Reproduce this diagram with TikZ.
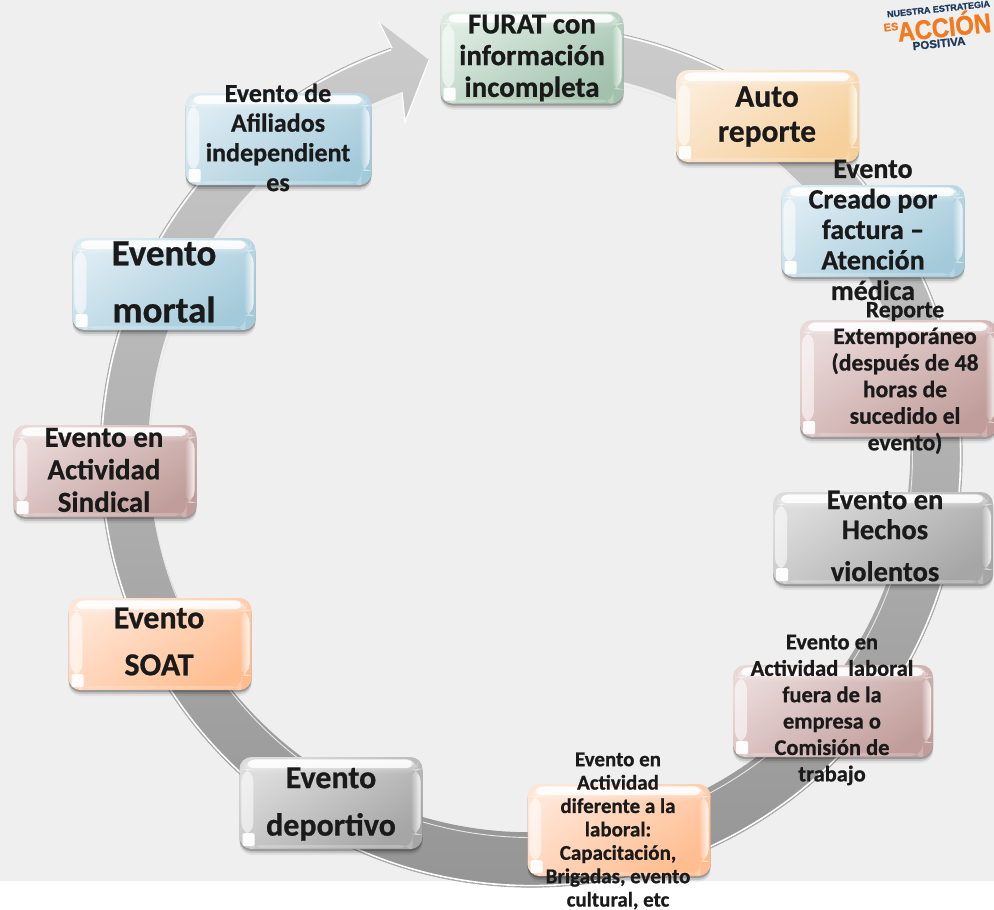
\documentclass[tikz,border=0pt]{standalone}
\usepackage{fontspec}
\setmainfont[BoldFeatures={FakeBold=0.7}]{Carlito}
\newfontfamily\logofont[BoldFeatures={FakeBold=1.2}]{Liberation Sans}
\usetikzlibrary{calc,fadings}
\definecolor{bggray}{HTML}{EFEFEF}
\definecolor{inkc}{HTML}{1A1A1A}
\definecolor{navyc}{HTML}{1F3A5F}
\definecolor{orangec}{HTML}{F47A1F}
\definecolor{greenL}{HTML}{DCEBE1}\definecolor{greenD}{HTML}{A3C2AD}
\definecolor{tanL}{HTML}{FBEBD8}\definecolor{tanD}{HTML}{F6CF9A}
\definecolor{blueL}{HTML}{DCEBF2}\definecolor{blueD}{HTML}{A3CADA}
\definecolor{roseL}{HTML}{E9D8D8}\definecolor{roseD}{HTML}{C09D9A}
\definecolor{grayL}{HTML}{DCDCDC}\definecolor{grayD}{HTML}{A6A6A6}
\definecolor{peachL}{HTML}{FFE5D5}\definecolor{peachD}{HTML}{FFBD90}
\tikzset{
  gloss/.style n args={4}{
    minimum width=#1 pt, minimum height=#2 pt, inner sep=0pt, rounded corners=12pt,
    preaction={fill=black,fill opacity=.06,transform canvas={yshift=-6pt}},
    preaction={fill=black,fill opacity=.12,transform canvas={yshift=-4pt}},
    preaction={fill=black,fill opacity=.22,transform canvas={yshift=-2pt}},
    top color=#3, bottom color=#4, shading angle=35,
    path picture={
      \fill[white,path fading=east,fill opacity=.6] ([xshift=2pt,yshift=-12pt]path picture bounding box.north west) rectangle ([xshift=14pt,yshift=14pt]path picture bounding box.south west);
      \fill[white,path fading=west,fill opacity=.85] ([xshift=-12pt,yshift=-12pt]path picture bounding box.north east) rectangle ([xshift=-2pt,yshift=14pt]path picture bounding box.south east);
      \fill[white,path fading=south,fill opacity=.6] ([xshift=5pt,yshift=-2pt]path picture bounding box.north west) rectangle ([xshift=-5pt,yshift=-17pt]path picture bounding box.north east);
      \fill[white,opacity=.85,rounded corners=5pt] ([xshift=8pt,yshift=-3pt]path picture bounding box.north west) rectangle ([xshift=-10pt,yshift=-11pt]path picture bounding box.north east);
      \fill[white,opacity=.95,rounded corners=1.5pt] ([xshift=3pt,yshift=3pt]path picture bounding box.south west) rectangle ([xshift=15pt,yshift=16pt]path picture bounding box.south west);
      \fill[white,opacity=.22] ([xshift=10pt,yshift=1pt]path picture bounding box.south west) rectangle ([xshift=-10pt,yshift=4pt]path picture bounding box.south east);
    }},
  lbl/.style n args={2}{text=inkc, align=center, inner sep=0pt, font=\fontsize{#1}{#2}\selectfont\bfseries},
  logo/.style={inner sep=0pt, rotate=6}
}
\begin{document}
\begin{tikzpicture}[x=1pt,y=-1pt]
\clip (0,0) rectangle (994,910);
\fill[white] (0,0) rectangle (994,910);
\fill[bggray] (0,0) rectangle (994,880.5);
% circular arrow
\begin{scope}[shift={(531,456)}]
  \shade[top color=black!20,bottom color=black!42]
    (275:431) arc[start angle=275,end angle=611.2,radius=431]
    -- (-152,-434) -- (-102,-396) -- (-126,-334) -- (-129,-364)
    arc[start angle=610.5,end angle=275,radius=381] -- cycle;
  \draw[black!38,line width=.6pt] (275:431.3) arc[start angle=275,end angle=611,radius=431.3];
  \draw[white,line width=1.6pt] (275:429.6) arc[start angle=275,end angle=611,radius=429.6];
  \draw[white!70!black!30,line width=.9pt] (275:381.5) arc[start angle=275,end angle=610,radius=381.5];
  \draw[white,line width=1.2pt,line join=miter] (-139,-408) -- (-152,-434) (-102,-396) -- (-126,-334) -- (-129,-364);
\end{scope}
% boxes
\node[gloss={183}{92}{greenL}{greenD}] (b1) at (532,57.5) {};
\node[gloss={183}{92}{tanL}{tanD}] (b2) at (767.5,116) {};
\node[gloss={183}{92}{blueL}{blueD}] (b3) at (873,231) {};
\node[gloss={197}{117}{roseL}{roseD}] (b4) at (898.5,378.5) {};
\node[gloss={220}{92}{grayL}{grayD}] (b5) at (883,538) {};
\node[gloss={200}{92}{roseL}{roseD}] (b6) at (833,711) {};
\node[gloss={183}{92}{peachL}{peachD}] (b7) at (619,830) {};
\node[gloss={183}{92}{grayL}{grayD}] (b8) at (331,803) {};
\node[gloss={183}{92}{peachL}{peachD}] (b9) at (160,644) {};
\node[gloss={183}{92}{roseL}{roseD}] (b10) at (105,471) {};
\node[gloss={183}{92}{blueL}{blueD}] (b11) at (164,284) {};
\node[gloss={186}{92}{blueL}{blueD}] (b12) at (278.5,139) {};
% labels
\node[lbl={29}{31.7}] (t1) at (532,58) {FURAT con\\información\\incompleta};
\node[lbl={31.5}{35}] (t2) at (767,116.5) {Auto\\reporte};
\node[lbl={28}{30.5}] (t3) at (873,230) {Evento\\Creado por\\factura --\\Atención\\médica};
\node[lbl={23.6}{26.6}] (t4) at (905,378) {Reporte\\Extemporáneo\\(después de 48\\horas de\\sucedido el\\evento)};
\node[lbl={28.5}{30}] (t5) at (885,536) {Evento en\\Hechos\\[12pt]violentos};
\node[lbl={22.5}{26.4}] (t6) at (832,710) {Evento en\\Actividad\hspace{5pt} laboral\\fuera de la\\empresa o\\Comisión de\\trabajo};
\node[lbl={21}{23.4}] (t7) at (618,831) {Evento en\\Actividad\\diferente a la\\laboral:\\Capacitación,\\Brigadas, evento\\cultural, etc};
\node[lbl={32}{47.5}] (t8) at (331,804) {Evento\\deportivo};
\node[lbl={32}{47}] (t9) at (159,641.5) {Evento\\SOAT};
\node[lbl={29}{32.5}] (t10) at (104,470) {Evento en\\Actividad\\Sindical};
\node[lbl={37}{57}] (t11) at (164,282) {Evento\\mortal};
\node[lbl={26}{29.7}] (t12) at (278,137.5) {Evento de\\Afiliados\\independient\\es};
% logo
\node[logo,text=navyc,font=\logofont\bfseries\fontsize{9}{9}\selectfont] (l1) at (938.5,9) {NUESTRA ESTRATEGIA};
\node[logo,text=orangec,font=\logofont\bfseries\fontsize{11}{11}\selectfont] (l2) at (891,27) {ES};
\node[logo,text=orangec,font=\logofont\bfseries\fontsize{27}{27}\selectfont] (l3) at (944,25) {\scalebox{.88}[1]{ACCIÓN}};
\node[logo,text=navyc,font=\logofont\bfseries\fontsize{11.5}{12}\selectfont] (l4) at (939,43.5) {POSITIVA};
\end{tikzpicture}
\end{document}
